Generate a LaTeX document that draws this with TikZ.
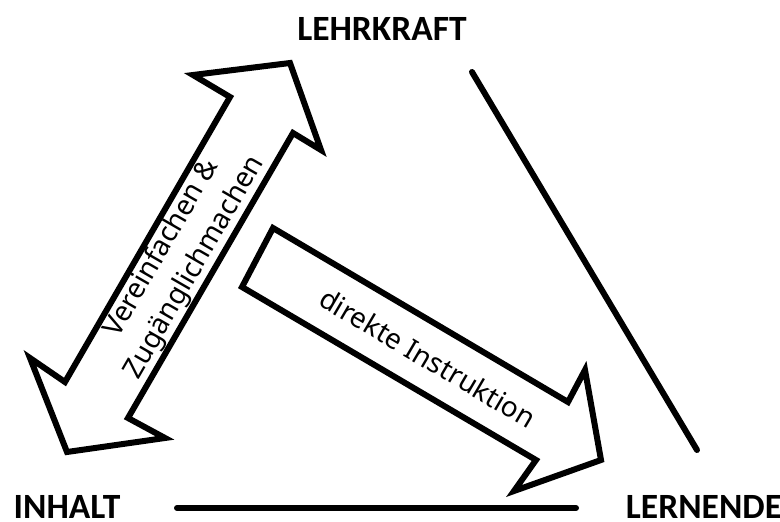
\documentclass[tikz,border=0pt]{standalone}
\usepackage{fontspec}
\setmainfont{Carlito}
\newfontfamily\arrowfont{Noto Sans}
\begin{document}
\begin{tikzpicture}[x=1pt,y=-1pt,
  corner/.style={font=\bfseries\fontsize{35.5}{40}\selectfont, inner sep=0pt},
  arrowshape/.style={draw=black, line width=6pt, line join=miter, fill=white},
  arrowtext/.style={font=\arrowfont\fontsize{28}{38}\selectfont, inner sep=0pt, align=center},
  edge/.style={line width=6pt, line cap=round}]
\useasboundingbox (0,0) rectangle (780,522);
% corner labels
\node[corner] (lehrkraft) at (382,28.5) {LEHRKRAFT};
\node[corner] (inhalt) at (67,506.5) {INHALT};
\node[corner] (lernende) at (704,506.5) {LERNENDE};
% edges of the triangle
\coordinate (lA) at (472,72);
\coordinate (lB) at (697,450);
\coordinate (bA) at (177,508);
\coordinate (bB) at (576,508);
\draw[edge] (lA) -- (lB);
\draw[edge] (bA) -- (bB);
% double arrow
\draw[arrowshape] (290,63) -- (193,75) -- (230,97) -- (65,382) -- (30,358) -- (67,452)
  -- (165,438) -- (128,418) -- (293,133) -- (321,150) -- cycle;
\node[arrowtext, rotate=60] (vz) at (178.5,258) {Vereinfachen \&\\Zugänglichmachen};
% single arrow
\draw[arrowshape] (273,228) -- (568,402) -- (585,370) -- (601,460) -- (514,491)
  -- (536,460) -- (242,287) -- cycle;
\node[arrowtext, rotate=-30.5] (di) at (428,358) {direkte Instruktion};
\end{tikzpicture}
\end{document}
